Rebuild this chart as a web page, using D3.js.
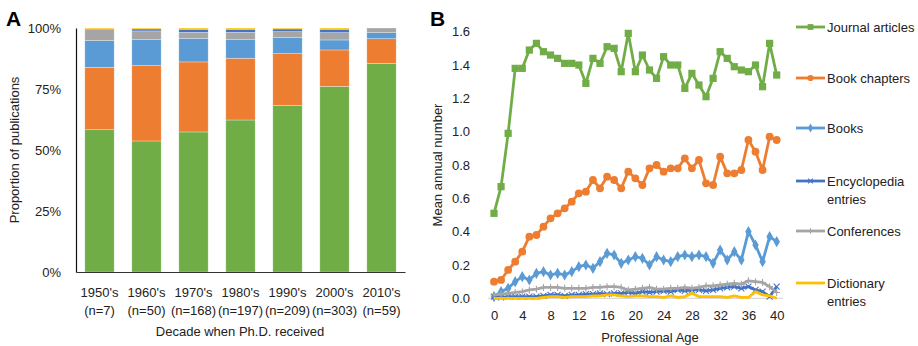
<!DOCTYPE html>
<html>
<head>
<meta charset="utf-8">
<script src="https://d3js.org/d3.v7.min.js"></script>
<style>
  body { margin: 0; background: #fff; }
  text { font-family: "Liberation Sans", Arial, sans-serif; font-size: 13px; fill: #222; }
  .panel { font-size: 21px; font-weight: bold; fill: #000; }
</style>
</head>
<body>
<svg width="918" height="346"></svg>
<script>
// ---- panel A data (percent of publications per decade)
const decades = ["1950's", "1960's", "1970's", "1980's", "1990's", "2000's", "2010's"];
const decadeCounts = ["(n=7)", "(n=50)", "(n=168)", "(n=197)", "(n=209)", "(n=303)", "(n=59)"];
const journalShare = [58.3, 53.7, 57.4, 62.3, 68.3, 76.1, 85.5];
const chapterShare = [25.6, 30.9, 28.7, 25.3, 21.2, 14.9, 10.1];
const bookShare = [10.9, 10.6, 9.7, 7.6, 6.7, 4.1, 2.5];
const conferenceShare = [4.8, 3.6, 2.4, 3.0, 2.3, 3.0, 1.9];
const encyclopediaShare = [0, 0.8, 1.3, 1.3, 1.1, 1.4, 0];
const dictionaryShare = [0.4, 0.4, 0.5, 0.5, 0.4, 0.5, 0];
const pctTicks = [0, 25, 50, 75, 100];

// ---- panel B data (mean annual number by professional age 0..40)
const ages = d3.range(0, 41);
const ageTicks = d3.range(0, 41, 4);
const meanTicks = [0, 0.2, 0.4, 0.6, 0.8, 1.0, 1.2, 1.4, 1.6];
const journalMean = [0.51, 0.67, 0.99, 1.38, 1.38, 1.49, 1.53, 1.48, 1.46, 1.44, 1.41, 1.41, 1.40, 1.29, 1.44, 1.41, 1.51, 1.50, 1.36, 1.59,
  1.36, 1.46, 1.37, 1.32, 1.45, 1.40, 1.40, 1.26, 1.35, 1.28, 1.21, 1.32, 1.48, 1.44, 1.39, 1.37, 1.36, 1.40, 1.27, 1.53, 1.34];
const chapterMean = [0.10, 0.11, 0.17, 0.22, 0.28, 0.37, 0.38, 0.43, 0.48, 0.51, 0.54, 0.58, 0.63, 0.64, 0.71, 0.66, 0.73, 0.71, 0.66, 0.76,
  0.72, 0.68, 0.78, 0.80, 0.76, 0.78, 0.78, 0.84, 0.78, 0.83, 0.69, 0.68, 0.85, 0.75, 0.75, 0.77, 0.95, 0.88, 0.77, 0.97, 0.95];
const bookMean = [0.01, 0.04, 0.06, 0.10, 0.13, 0.11, 0.15, 0.16, 0.14, 0.15, 0.14, 0.16, 0.19, 0.20, 0.18, 0.22, 0.27, 0.26, 0.21, 0.23,
  0.25, 0.24, 0.20, 0.25, 0.23, 0.22, 0.25, 0.26, 0.25, 0.26, 0.25, 0.21, 0.29, 0.23, 0.28, 0.23, 0.40, 0.32, 0.22, 0.37, 0.34];
const encyclopediaMean = [0.01, 0.005, 0.01, 0.01, 0.01, 0.01, 0.01, 0.015, 0.02, 0.02, 0.015, 0.02, 0.02, 0.025, 0.025, 0.03, 0.025, 0.03, 0.03, 0.035,
  0.03, 0.04, 0.035, 0.04, 0.045, 0.04, 0.05, 0.045, 0.05, 0.05, 0.045, 0.05, 0.06, 0.065, 0.07, 0.06, 0.07, 0.05, 0.04, 0.01, 0.07];
const conferenceMean = [0.02, 0.025, 0.03, 0.035, 0.04, 0.05, 0.055, 0.065, 0.065, 0.065, 0.06, 0.06, 0.06, 0.06, 0.065, 0.065, 0.07, 0.07, 0.065, 0.05,
  0.055, 0.06, 0.065, 0.055, 0.055, 0.06, 0.06, 0.065, 0.06, 0.065, 0.075, 0.075, 0.08, 0.085, 0.09, 0.085, 0.105, 0.10, 0.095, 0.07, 0.035];
const dictionaryMean = [0, 0, 0, 0, 0, 0, 0, 0.005, 0.01, 0.01, 0.005, 0.01, 0.01, 0.01, 0.015, 0.015, 0.02, 0.02, 0.015, 0.01,
  0.015, 0.015, 0.01, 0.01, 0.005, 0.015, 0.005, 0.01, 0.03, 0.01, 0.01, 0.01, 0.01, 0.005, 0.015, 0.005, 0.005, 0.04, 0.02, 0.015, 0];

const colors = {
  journal: "#70ad47", chapter: "#ed7d31", book: "#5b9bd5",
  encyclopedia: "#4472c4", conference: "#a5a5a5", dictionary: "#ffc000"
};

const svg = d3.select("svg");

// ================= Panel A =================
const keysA = ["journal", "chapter", "book", "conference", "encyclopedia", "dictionary"];
const tableA = decades.map((d, i) => ({
  decade: d,
  journal: journalShare[i], chapter: chapterShare[i], book: bookShare[i],
  conference: conferenceShare[i], encyclopedia: encyclopediaShare[i], dictionary: dictionaryShare[i]
}));

const xA = d3.scaleBand().domain(decades).range([76, 405]).paddingInner(0.376).paddingOuter(0.188);
const yA = d3.scaleLinear().domain([0, 100]).range([272, 28]);

const stacked = d3.stack().keys(keysA)(tableA);

svg.append("g")
  .selectAll("g")
  .data(stacked)
  .join("g")
  .attr("fill", d => colors[d.key])
  .selectAll("rect")
  .data(d => d)
  .join("rect")
  .attr("x", d => xA(d.data.decade))
  .attr("width", xA.bandwidth())
  .attr("y", d => yA(d[1]))
  .attr("height", d => Math.max(0, yA(d[0]) - yA(d[1])))
  .attr("stroke", "#fff")
  .attr("stroke-opacity", 0.5)
  .attr("stroke-width", 0.6);

const axisA = svg.append("g")
  .attr("transform", "translate(76,0)")
  .call(d3.axisLeft(yA).tickValues(pctTicks).tickFormat(d => d + "%").tickSize(0).tickPadding(15));
axisA.select(".domain").attr("stroke", "#111").attr("stroke-width", 1.2);
axisA.selectAll("text").style("font-size", "13px").attr("fill", "#222").attr("font-family", null);

const xAxisA = svg.append("g")
  .attr("transform", "translate(0,272)")
  .call(d3.axisBottom(xA).tickSize(0).tickSizeOuter(0).tickPadding(0));
xAxisA.select(".domain").attr("stroke", "#333").attr("stroke-width", 1.2);
xAxisA.selectAll(".tick text").each(function (d, i) {
  const t = d3.select(this).text(null).attr("y", 0).attr("dy", null).attr("font-family", null).style("font-size", "13px").attr("fill", "#222");
  t.append("tspan").attr("x", 0).attr("y", 25).text(d);
  t.append("tspan").attr("x", 0).attr("y", 43).text(decadeCounts[i]);
});

svg.append("text").attr("x", 240).attr("y", 336).attr("text-anchor", "middle").text("Decade when Ph.D. received");
svg.append("text").attr("transform", "translate(19,150) rotate(-90)").attr("text-anchor", "middle").text("Proportion of publications");
svg.append("text").attr("class", "panel").attr("x", 6).attr("y", 26).text("A");

// ================= Panel B =================
const xB = d3.scaleLinear().domain([0, 40]).range([494, 776.7]);
const yB = d3.scaleLinear().domain([0, 1.6]).range([298.3, 31.7]);

const xAxisB = svg.append("g")
  .attr("transform", "translate(0,298.3)")
  .call(d3.axisBottom(xB).tickValues(ageTicks).tickSize(0).tickSizeOuter(0).tickPadding(12).tickFormat(d3.format("d")));
xAxisB.select(".domain").attr("stroke", "#d9d9d9").attr("stroke-width", 1.2).attr("d", "M488,0H783");
xAxisB.selectAll("text").style("font-size", "13px").attr("fill", "#222").attr("font-family", null);

const yAxisB = svg.append("g")
  .attr("transform", "translate(483,0)")
  .call(d3.axisLeft(yB).tickValues(meanTicks).tickSize(0).tickPadding(13).tickFormat(d3.format(".1f")));
yAxisB.select(".domain").remove();
yAxisB.selectAll("text").style("font-size", "13px").attr("fill", "#222").attr("font-family", null);

svg.append("text").attr("x", 650).attr("y", 342).attr("text-anchor", "middle").text("Professional Age");
svg.append("text").attr("transform", "translate(442,165) rotate(-90)").attr("text-anchor", "middle").text("Mean annual number");
svg.append("text").attr("class", "panel").attr("x", 430).attr("y", 26).text("B");

const seriesB = [
  { key: "journal", name: ["Journal articles"], values: journalMean, marker: "square", ly: 27 },
  { key: "chapter", name: ["Book chapters"], values: chapterMean, marker: "circle", ly: 78 },
  { key: "book", name: ["Books"], values: bookMean, marker: "diamond", ly: 128 },
  { key: "encyclopedia", name: ["Encyclopedia", "entries"], values: encyclopediaMean, marker: "times", ly: 181 },
  { key: "conference", name: ["Conferences"], values: conferenceMean, marker: "plus", ly: 231 },
  { key: "dictionary", name: ["Dictionary", "entries"], values: dictionaryMean, marker: "none", ly: 283 }
];

function drawMarker(g, type, color, scale) {
  const k = scale || 1;
  if (type === "square") {
    g.append("path").attr("d", d3.symbol(d3.symbolSquare, 52 * k * k)()).attr("fill", color);
  } else if (type === "circle") {
    g.append("circle").attr("r", 3.9 * k).attr("fill", color);
  } else if (type === "diamond") {
    g.append("path").attr("d", d3.symbol(d3.symbolDiamond, 36 * k * k)()).attr("fill", color);
  } else if (type === "times") {
    const s = 3 * k;
    g.append("path").attr("d", `M${-s},${-s}L${s},${s}M${-s},${s}L${s},${-s}`).attr("stroke", color).attr("stroke-width", 1.1);
  } else if (type === "plus") {
    const s = 3.5 * k;
    g.append("path").attr("d", `M${-s},0H${s}M0,${-s}V${s}`).attr("stroke", color).attr("stroke-width", 1.1);
  }
}

const line = d3.line().x((d, i) => xB(ages[i])).y(d => yB(d));

seriesB.forEach(s => {
  const g = svg.append("g");
  g.append("path")
    .attr("d", line(s.values))
    .attr("fill", "none")
    .attr("stroke", colors[s.key])
    .attr("stroke-width", 2.8)
    .attr("stroke-linejoin", "round");
  g.selectAll("g.m")
    .data(s.values)
    .join("g")
    .attr("class", "m")
    .attr("transform", (d, i) => `translate(${xB(ages[i])},${yB(d)})`)
    .each(function () { drawMarker(d3.select(this), s.marker, colors[s.key]); });
});

// legend
const legend = svg.append("g");
seriesB.forEach(s => {
  const g = legend.append("g").attr("transform", `translate(0,${s.ly})`);
  g.append("line").attr("x1", 796).attr("x2", 825).attr("stroke", colors[s.key]).attr("stroke-width", 2.8);
  const m = g.append("g").attr("transform", "translate(810.5,0)");
  drawMarker(m, s.marker, colors[s.key], 0.8);
  s.name.forEach((t, j) => {
    g.append("text").attr("x", 827).attr("y", j * 18.5).attr("dy", "0.35em").text(t);
  });
});
</script>
</body>
</html>
